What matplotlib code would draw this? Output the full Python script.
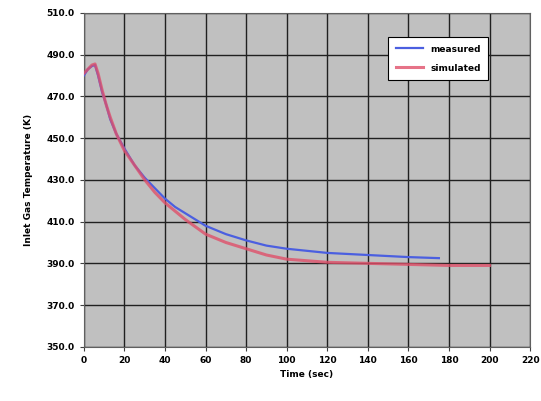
import matplotlib
matplotlib.use("Agg")
import matplotlib.pyplot as plt
import numpy as np

# measured (blue) and simulated (red) temperature curves
t_meas = [0, 2, 4, 5.5, 7, 9, 11, 13, 16, 20, 25, 30, 35, 40, 45, 50, 60, 70, 80,
          90, 100, 110, 120, 140, 160, 175]
T_meas = [480, 483, 484.5, 485, 480, 472, 466, 459, 452, 445, 437, 431, 426, 421,
          417, 414, 408, 404, 401, 398.5, 397, 396, 395, 394, 393, 392.5]

t_sim = [0, 2, 4, 5.5, 7, 9, 11, 13, 16, 20, 25, 30, 35, 40, 45, 50, 60, 70, 80,
         90, 100, 120, 140, 160, 180, 200]
T_sim = [481, 483, 485, 485.5, 481, 473, 466, 460, 452, 444, 437, 430, 424, 419,
         415, 411, 404, 400, 397, 394, 392, 390.5, 390, 389.5, 389, 389]

x_ticks = list(range(0, 221, 20))
y_ticks = list(range(350, 511, 20))

fig = plt.figure(figsize=(5.41, 4.01), dpi=100)
ax = fig.add_axes([0.155, 0.135, 0.825, 0.833])
ax.set_facecolor("#c0c0c0")

ax.plot(t_meas, T_meas, color="#4b5fe0", lw=1.6, label="measured", zorder=3)
ax.plot(t_sim, T_sim, color="#e0506a", lw=2.2, alpha=0.8, label="simulated", zorder=4)

ax.set_xlim(0, 220)
ax.set_ylim(350, 510)
ax.set_xticks(x_ticks)
ax.set_yticks(y_ticks)
ax.set_xticklabels([str(v) for v in x_ticks], fontsize=6.5, fontweight="bold")
ax.set_yticklabels([f"{v:.1f}" for v in y_ticks], fontsize=6.5, fontweight="bold")
ax.grid(True, color="#202020", lw=1.0)
ax.set_axisbelow(True)
for s in ax.spines.values():
    s.set_color("#606060")
ax.tick_params(length=3, width=0.8, color="#404040")

ax.set_xlabel("Time (sec)", fontsize=6.5, fontweight="bold", labelpad=4)
ax.set_ylabel("Inlet Gas Temperature (K)", fontsize=6.5, fontweight="bold", labelpad=10)

leg = ax.legend(loc="upper right", bbox_to_anchor=(0.915, 0.94),
                prop={"weight": "bold", "size": 6.5}, framealpha=1,
                edgecolor="black", fancybox=False, handlelength=3.0,
                labelspacing=1.1, borderpad=0.8)
leg.get_frame().set_linewidth(0.8)

plt.savefig("out.png", dpi=100)
plt.close()
